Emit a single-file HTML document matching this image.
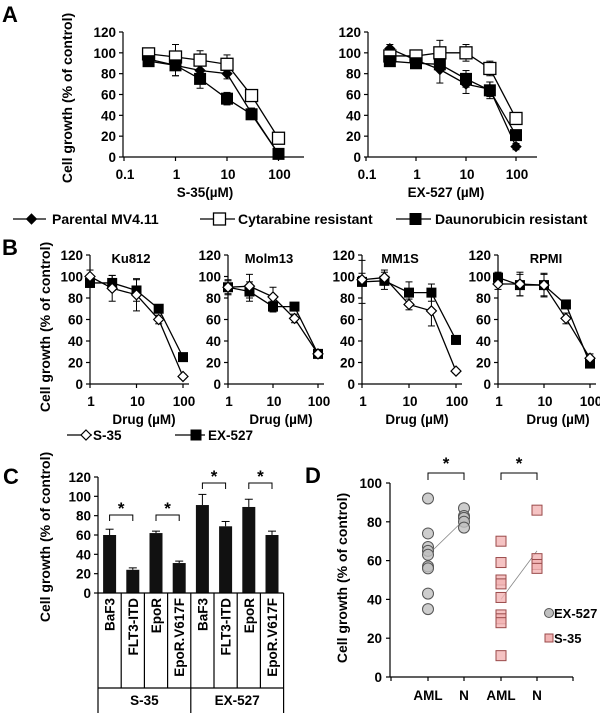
<!DOCTYPE html>
<html><head><meta charset="utf-8"><style>
html,body{margin:0;padding:0;background:#fff}
svg{display:block;font-family:"Liberation Sans",Arial,sans-serif;font-weight:bold}
</style></head><body>
<svg id="fig" width="600" height="713" viewBox="0 0 600 713"></svg>
<script>
// ---------- Panel A data ----------
const aConc=[0.3,1,3,10,30,100];
const aTicks=[0.1,1,10,100];
const aTickLabels=['0.1','1','10','100'];
const aParentalS35=[94,88,83,80,42,3];
const aCytS35=[99,96,93,89,59,18];
const aDauS35=[92,88,75,56,41,3];
const aParentalEX=[104,93,84,70,65,10];
const aCytEX=[97,97,100,100,85,37];
const aDauEX=[92,90,89,75,64,21];
const aErrParS35=[3,10,5,5,5,2];
const aErrCytS35=[4,12,9,9,5,2];
const aErrDauS35=[3,10,9,6,4,2];
const aErrParEX=[4,4,13,9,7,3];
const aErrCytEX=[4,3,12,8,7,3];
const aErrDauEX=[3,4,5,8,8,3];
// ---------- Panel B data ----------
const bConc=[1,3,10,30,100];
const bTitles=['Ku812','Molm13','MM1S','RPMI'];
const bS35=[[100,89,83,60,7],[90,91,81,61,28],[97,99,74,68,12],[93,93,92,61,24]];
const bEX=[[94,94,87,70,25],[90,86,72,72,28],[95,96,85,85,41],[99,92,92,74,19]];
const bErrS35=[[6,12,15,4,2],[6,11,9,4,3],[6,7,5,14,2],[5,11,11,5,4]];
const bErrEX=[[4,7,10,3,2],[7,9,5,3,3],[20,8,10,8,4],[5,10,10,3,2]];
const bTicks=[1,10,100];
// ---------- Panel C data ----------
const cCats=['BaF3','FLT3-ITD','EpoR','EpoR.V617F','BaF3','FLT3-ITD','EpoR','EpoR.V617F'];
const cVals=[60,24,62,31,91,69,89,60];
const cErr=[6,2,2,2,11,5,8,4];
const cGroups=['S-35','EX-527'];
// ---------- Panel D data ----------
const dCats=['AML','N','AML','N'];
const dExAML=[92,74,67,65,63,57,56,43,35];
const dExN=[87,83,82,80,77];
const dS35AML=[70,59,50,48,41,32,30,28,11];
const dS35N=[86,61,58,56];
const dExMeans=[63,81];
const dS35Means=[40,65];
const yTicks120=[0,20,40,60,80,100,120];
const yTicks100=[0,20,40,60,80,100];

const NS='http://www.w3.org/2000/svg';
const svg=document.getElementById('fig');
function mk(tag,attrs,parent){const e=document.createElementNS(NS,tag);for(const k in attrs)e.setAttribute(k,attrs[k]);(parent||svg).appendChild(e);return e;}
function txt(x,y,s,attrs,parent){const t=mk('text',Object.assign({x:x,y:y},attrs||{}),parent);t.textContent=s;return t;}
function line(x1,y1,x2,y2,p,w,c){return mk('line',{x1:x1,y1:y1,x2:x2,y2:y2,stroke:c||'#000','stroke-width':w||1.2},p);}

function marker(type,x,y,s,p){
  let e;
  if(type==='diamond'){e=mk('polygon',{points:(x)+','+(y-s)+' '+(x+s)+','+y+' '+x+','+(y+s)+' '+(x-s)+','+y,fill:'#000',stroke:'#000','stroke-width':1},p);}
  else if(type==='odiamond'){e=mk('polygon',{points:(x)+','+(y-s)+' '+(x+s)+','+y+' '+x+','+(y+s)+' '+(x-s)+','+y,fill:'#fff',stroke:'#000','stroke-width':1.2},p);}
  else if(type==='osquare'){e=mk('rect',{x:x-s,y:y-s,width:2*s,height:2*s,fill:'#fff',stroke:'#000','stroke-width':1.3},p);}
  else {e=mk('rect',{x:x-s,y:y-s,width:2*s,height:2*s,fill:'#000',stroke:'#000','stroke-width':1},p);}
  return e;
}

function letter(x,y,s){const t=txt(x,y,s,{'font-size':22});}

function ytitle(x,y,s,name){const t=txt(x,y,s,{'font-size':14,'text-anchor':'middle',transform:'rotate(-90 '+x+' '+y+')'});}

function logPanel(o){
  const g=mk('g',{});
  
  
  const xs=v=>o.x0+o.dec*Math.log10(v/o.base);
  const ys=v=>o.y0-(o.y0-o.yTop)*v/120;
  line(o.ax,o.y0,o.xEnd,o.y0,g);
  line(o.ax,o.y0,o.ax,ys(120),g);
  yTicks120.forEach(v=>{line(o.ax-4,ys(v),o.ax,ys(v),g);const t=txt(o.ax-7,ys(v)+5,String(v),{'font-size':13.5,'text-anchor':'end'},g);});
  o.ticks.forEach((v,i)=>{line(xs(v),o.y0,xs(v),o.y0+4,g);const t=txt(xs(v)+1,o.y0+22,o.tickLabels[i],{'font-size':13.5,'text-anchor':'middle'},g);});
  if(o.xtitle){const t=txt(o.xtX,o.y0+40,o.xtitle,{'font-size':13.5,'text-anchor':'middle'},g);}
  if(o.title){const t=txt(o.titleX,o.yTop+8,o.title,{'font-size':13,'text-anchor':'middle'},g);}
  o.series.forEach(s=>{
    const pts=o.conc.map((c,i)=>xs(c)+','+ys(s.vals[i])).join(' ');
    const pl=mk('polyline',{points:pts,fill:'none',stroke:'#000','stroke-width':1.3},g);
    
    
    o.conc.forEach((c,i)=>{
      const e=s.err[i],x=xs(c);
      line(x,ys(s.vals[i]+e),x,ys(s.vals[i]-e),g,1);
      line(x-3.5,ys(s.vals[i]+e),x+3.5,ys(s.vals[i]+e),g,1);
      line(x-3.5,ys(s.vals[i]-e),x+3.5,ys(s.vals[i]-e),g,1);
    });
  });
  o.series.forEach(s=>{o.conc.forEach((c,i)=>{const m=marker(s.type,xs(c),ys(s.vals[i]),s.size,g);});});
}

// ---------- Panel A ----------
letter(2,22,'A');
ytitle(72,98,'Cell growth (% of control)','y-axis-title-a');
logPanel({name:'panel-a-s35',ax:123,x0:124,base:0.1,dec:51.5,xEnd:304,y0:157,yTop:32,ticks:aTicks,tickLabels:aTickLabels,conc:aConc,xtitle:'S-35(\u00b5M)',xtX:205,
 series:[{name:'parental',vals:aParentalS35,err:aErrParS35,type:'diamond',size:5},{name:'cytarabine',vals:aCytS35,err:aErrCytS35,type:'osquare',size:6},{name:'daunorubicin',vals:aDauS35,err:aErrDauS35,type:'square',size:5.5}]});
logPanel({name:'panel-a-ex527',ax:368,x0:366,base:0.1,dec:50,xEnd:537,y0:157,yTop:32,ticks:aTicks,tickLabels:aTickLabels,conc:aConc,xtitle:'EX-527 (\u00b5M)',xtX:446,
 series:[{name:'parental',vals:aParentalEX,err:aErrParEX,type:'diamond',size:5},{name:'cytarabine',vals:aCytEX,err:aErrCytEX,type:'osquare',size:6},{name:'daunorubicin',vals:aDauEX,err:aErrDauEX,type:'square',size:5.5}]});
(function(){
  const g=mk('g',{});
  
  
  const items=[[13,46,'diamond',5,'Parental MV4.11',52],[200,235,'osquare',6,'Cytarabine resistant',238],[396,431,'square',5.5,'Daunorubicin resistant',435]];
  items.forEach(it=>{
    const e=mk('g',{},g);
    
    
    line(it[0],219,it[1],219,e,1.3);
    marker(it[2],(it[0]+it[1])/2+2,219,it[3],e);
    txt(it[5],224,it[4],{'font-size':14},e);
  });
})();

// ---------- Panel B ----------
letter(2,255,'B');
ytitle(50,327,'Cell growth (% of control)','y-axis-title-b');
const bX0=[90,228,362,498];
const bDec=[46.5,45,47,46];
const bTitleX=[131,269,400,546];
const bXt=[144,281,417,558];
bTitles.forEach((t,k)=>{
  logPanel({name:'panel-b-'+t.toLowerCase(),ax:bX0[k],x0:bX0[k],base:1,dec:bDec[k],xEnd:bX0[k]+bDec[k]*2+6,y0:384,yTop:255,ticks:bTicks,tickLabels:['1','10','100'],conc:bConc,xtitle:'Drug (\u00b5M)',xtX:bXt[k],title:t,titleX:bTitleX[k],
   series:[{name:'ex527',vals:bEX[k],err:bErrEX[k],type:'square',size:4.5},{name:'s35',vals:bS35[k],err:bErrS35[k],type:'odiamond',size:5}]});
});
(function(){
  const g=mk('g',{});
  
  
  const e1=mk('g',{},g);
  
  
  line(67,435,92,435,e1,1.3);marker('odiamond',86,435,5,e1);txt(93,440,'S-35',{'font-size':13.5},e1);
  const e2=mk('g',{},g);
  
  
  line(175,435,205,435,e2,1.3);marker('square',196,435,5,e2);txt(208,440,'EX-527',{'font-size':13.5},e2);
})();

// ---------- Panel C ----------
letter(3,484,'C');
ytitle(50,537,'Cell growth (% of control)','y-axis-title-c');
(function(){
  const g=mk('g',{});
  
  
  const x0=98,bw=23.2,y0=593,yTop=477;
  const ys=v=>y0-(y0-yTop)*v/120;
  line(x0,y0,x0,yTop,g);
  yTicks120.forEach(v=>{line(x0-4,ys(v),x0,ys(v),g);const t=txt(x0-7,ys(v)+5,String(v),{'font-size':13.5,'text-anchor':'end'},g);});
  cVals.forEach((v,i)=>{
    const cx=x0+bw*(i+0.5);
    const r=mk('rect',{x:cx-6.5,y:ys(v),width:13,height:y0-ys(v),fill:'#111'},g);
    
    
    line(cx,ys(v),cx,ys(v+cErr[i]),g,1);
    line(cx-4,ys(v+cErr[i]),cx+4,ys(v+cErr[i]),g,1);
    const t=txt(cx+5,598,cCats[i],{'font-size':13.5,'text-anchor':'end',transform:'rotate(-90 '+(cx+5)+' 598)'},g);
    
    
  });
  line(x0,y0,x0+bw*8,y0,g);
  for(let i=0;i<=8;i++){const xx=x0+bw*i;line(xx,y0,xx,i%4===0?713:688,g);}
  line(x0,688,x0+bw*8,688,g);
  cGroups.forEach((s,k)=>{const t=txt(x0+bw*(2+4*k),705,s,{'font-size':13.5,'text-anchor':'middle'},g);});
  [[0,1],[2,3],[4,5],[6,7]].forEach((p,k)=>{
    const yb=k<2?515:483;
    const xa=x0+bw*(p[0]+0.5),xb=x0+bw*(p[1]+0.5);
    const b=mk('path',{d:'M'+xa+','+(yb+6)+' V'+yb+' H'+xb+' V'+(yb+6),fill:'none',stroke:'#000','stroke-width':1},g);
    
    
    const t=txt((xa+xb)/2,yb-1,'*',{'font-size':17,'text-anchor':'middle'},g);
    
    
  });
})();

// ---------- Panel D ----------
letter(305,483,'D');
ytitle(347,578,'Cell growth (% of control)','y-axis-title-d');
(function(){
  const g=mk('g',{});
  
  
  const x0=390,y0=677,yTop=483,xEnd=573;
  const ys=v=>y0-(y0-yTop)*v/100;
  const cx=[428,464,501,537];
  line(x0,y0,x0,yTop,g);line(x0,y0,xEnd,y0,g);
  yTicks100.forEach(v=>{line(x0-4,ys(v),x0,ys(v),g);const t=txt(x0-8,ys(v)+5,String(v),{'font-size':13.5,'text-anchor':'end'},g);});
  [x0+1,cx[0],cx[1],cx[2],cx[3],xEnd].forEach(xx=>line(xx,y0,xx,y0+4,g));
  dCats.forEach((c,i)=>{const t=txt(cx[i],700,c,{'font-size':13.5,'text-anchor':'middle'},g);});
  const l1=line(cx[0],ys(dExMeans[0]),cx[1],ys(dExMeans[1]),g,0.8,'#888');
  
  
  const l2=line(cx[2],ys(dS35Means[0]),cx[3],ys(dS35Means[1]),g,0.8,'#888');
  
  
  const circ=(x,v)=>{const c=mk('circle',{cx:x,cy:ys(v),r:5.5,fill:'#c0c0c0','fill-opacity':0.8,stroke:'#555','stroke-width':1},g);};
  const sq=(x,v)=>{const s=mk('rect',{x:x-5,y:ys(v)-5,width:10,height:10,fill:'#f2b4b4','fill-opacity':0.8,stroke:'#9a4a4a','stroke-width':1},g);};
  dExAML.forEach(v=>circ(cx[0],v));
  dExN.forEach(v=>circ(cx[1],v));
  dS35AML.forEach(v=>sq(cx[2],v));
  dS35N.forEach(v=>sq(cx[3],v));
  [[cx[0],cx[1]],[cx[2],cx[3]]].forEach(p=>{
    const b=mk('path',{d:'M'+p[0]+',480 V473 H'+p[1]+' V480',fill:'none',stroke:'#000','stroke-width':1},g);
    
    
    const t=txt((p[0]+p[1])/2,469,'*',{'font-size':17,'text-anchor':'middle'},g);
    
    
  });
  const lg=mk('g',{},g);
  
  
  mk('circle',{cx:549,cy:613,r:4.5,fill:'#c0c0c0',stroke:'#555','stroke-width':1},lg);
  txt(554,618,'EX-527',{'font-size':13},lg);
  mk('rect',{x:545,y:634,width:8,height:8,fill:'#f2b4b4',stroke:'#9a4a4a','stroke-width':1},lg);
  txt(554,643,'S-35',{'font-size':13},lg);
})();
</script>
</body></html>
